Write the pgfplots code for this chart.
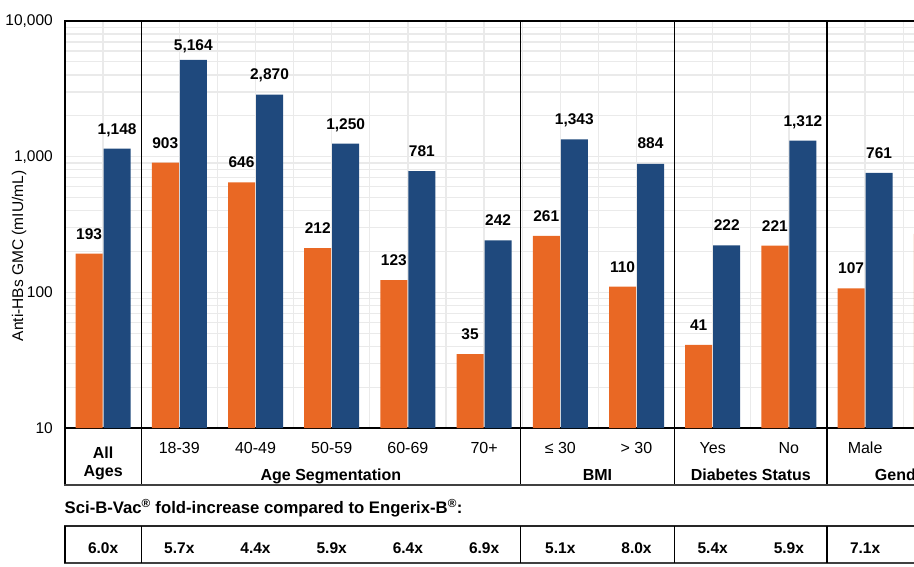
\documentclass[border=0pt]{standalone}
\usepackage{pgfplots}
\pgfplotsset{compat=1.18}
\usepackage{fontspec}
\setmainfont{Liberation Sans}
\definecolor{cOrange}{RGB}{233,104,36}
\definecolor{cBlue}{RGB}{31,73,125}
\definecolor{cGrid}{RGB}{234,234,234}
\newcommand{\fs}[1]{\fontsize{#1}{#1}\selectfont}
\begin{document}
\begin{tikzpicture}[x=1pt,y=1pt]
\begin{axis}[
  at={(65pt,138pt)}, anchor=south west,
  scale only axis, width=914.4pt, height=407pt,
  xmin=-0.5, xmax=11.5,
  ymode=log, ymin=10, ymax=10000, log origin=infty,
  ytick={10,100,1000,10000},
  yticklabels={10,100,{1,000},{10,000}},
  minor ytick={20,30,40,50,60,70,80,90,200,300,400,500,600,700,800,900,2000,3000,4000,5000,6000,7000,8000,9000},
  xtick={0,1,2,3,4,5,6,7,8,9,10,11},
  xticklabels={,18-39,40-49,50-59,60-69,70+,≤ 30,> 30,Yes,No,Male,},
  minor xtick={-0.5,0.5,1.5,2.5,3.5,4.5,5.5,6.5,7.5,8.5,9.5,10.5,11.5},
  xmajorgrids, xminorgrids, ymajorgrids, yminorgrids,
  major grid style={cGrid, line width=1.3pt},
  minor grid style={cGrid, line width=1.3pt},
  major tick length=0pt, minor tick length=0pt,
  axis line style={black, line width=2pt},
  xticklabel style={font=\fs{16}, anchor=base, yshift=-25pt},
  yticklabel style={font=\fs{15.5}, anchor=east, inner xsep=0pt, xshift=-12pt},
  ybar=1pt, bar width=27pt,
  point meta=explicit symbolic,
  visualization depends on={\thisrow{dy} \as \dy},
  nodes near coords={\pgfplotspointmeta},
  every node near coord/.append style={font=\bfseries\fs{15.5}, anchor=base, yshift=\dy pt, text=black},
]
\addplot[fill=cOrange, draw=none] table[meta=lab] {
x y lab dy
0 193 193 14.5
1 903 903 14.5
2 646 646 14.5
3 212 212 14.5
4 123 123 14.5
5 35 35 14.5
6 261 261 14.5
7 110 110 14.5
8 41 41 14.5
9 221 221 14.5
10 107 107 14.5
11 270 270 14.5
};
\addplot[fill=cBlue, draw=none] table[meta=lab] {
x y lab dy
0 1148 1,148 14.5
1 5164 5,164 9
2 2870 2,870 15
3 1250 1,250 14.5
4 781 781 14.5
5 242 242 14.5
6 1343 1,343 15
7 884 884 15
8 222 222 14.5
9 1312 1,312 14.5
10 761 761 14.5
};
\end{axis}
% group separators
\foreach \xx in {141.2,520.5,674.6,827} \draw[line width=1.4pt] (\xx,545) -- (\xx,81);
\draw[line width=2pt] (65,138) -- (65,80);
\draw[line width=1.8pt, black!75] (64,81) -- (1000,81);
\draw[line width=1.5pt, black!85] (64,40) -- (1000,40);
\draw[line width=1.8pt, black!75] (64,3) -- (1000,3);
\foreach \xx in {65,141.2,520.5,674.6,827} \draw[line width=1.4pt] (\xx,40) -- (\xx,3);
% category group labels
\node[font=\bfseries\fs{16}, anchor=base] at (103.1,108) {All};
\node[font=\bfseries\fs{16}, anchor=base] at (103.1,90) {Ages};
\node[font=\bfseries\fs{16}, anchor=base] at (330.9,86) {Age Segmentation};
\node[font=\bfseries\fs{16}, anchor=base] at (597.5,86) {BMI};
\node[font=\bfseries\fs{16}, anchor=base] at (750.8,86) {Diabetes Status};
\node[font=\bfseries\fs{16}, anchor=base] at (903,86) {Gender};
% subtitle
\node[font=\bfseries\fs{16.7}, anchor=base west, inner sep=0pt] at (64.5,52.5) {Sci-B-Vac\textsuperscript{®} fold-increase compared to Engerix-B\textsuperscript{®}:};
% fold increases
\foreach \v [count=\i from 0] in {6.0x,5.7x,4.4x,5.9x,6.4x,6.9x,5.1x,8.0x,5.4x,5.9x,7.1x}
  \node[font=\bfseries\fs{15.5}, anchor=base] at ({103.1+76.2*\i},13) {\v};
% y label
\node[font=\fs{15.5}, rotate=90, anchor=center] at (19,310) {Anti-HBs GMC (mIU/mL)};
\pgfresetboundingbox
\path[use as bounding box] (0,0) rectangle (914,566);
\end{tikzpicture}
\end{document}
